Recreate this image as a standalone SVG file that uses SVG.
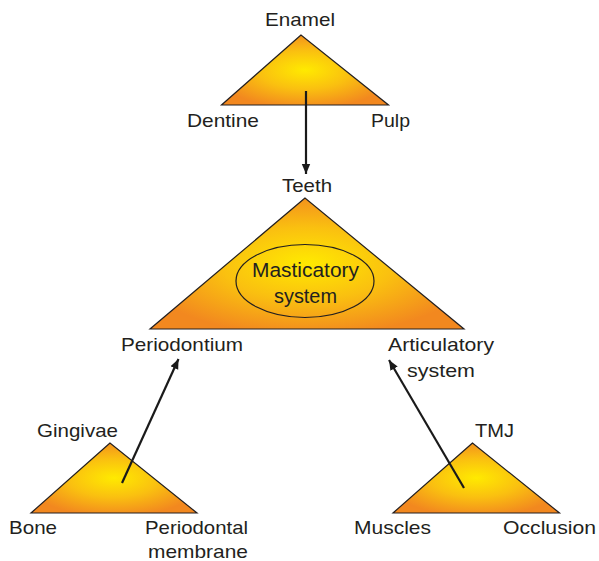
<svg xmlns="http://www.w3.org/2000/svg" width="599" height="561" viewBox="0 0 599 561">
<defs>
<radialGradient id="g" cx="0.5" cy="0.5" r="0.55">
<stop offset="0" stop-color="#FFEA00"/>
<stop offset="0.5" stop-color="#FAC010"/>
<stop offset="1" stop-color="#F2881F"/>
</radialGradient>
<marker id="ah" viewBox="0 0 10 10" refX="10" refY="5" markerWidth="10" markerHeight="10" markerUnits="userSpaceOnUse" orient="auto">
<path d="M0,0.8 L10,5 L0,9.2 Z" fill="#1a1a1a"/>
</marker>
<style>
.tri{fill:url(#g);stroke:#231f20;stroke-width:1.2;stroke-linejoin:miter}
.t{font-family:"Liberation Sans",Arial,sans-serif;font-size:19px;fill:#231f20}
.b{font-size:20.5px}
.c{stroke:#1a1a1a;stroke-width:2.2;fill:none;marker-end:url(#ah)}
.el{fill:none;stroke:#231f20;stroke-width:1.2}
</style>
</defs>
<g id="top">
<polygon class="tri" points="301,35 221.5,105 388.5,105"/>
<text class="t" x="265" y="26" textLength="70" lengthAdjust="spacingAndGlyphs">Enamel</text>
<text class="t" x="187" y="127" textLength="72" lengthAdjust="spacingAndGlyphs">Dentine</text>
<text class="t" x="371" y="127" textLength="39" lengthAdjust="spacingAndGlyphs">Pulp</text>
</g>
<g id="teeth">
<polygon class="tri" points="305,198 150,329 464,329"/>
<ellipse class="el" cx="305" cy="281" rx="69" ry="36.5"/>
<text class="t b" x="252" y="277" textLength="107" lengthAdjust="spacingAndGlyphs">Masticatory</text>
<text class="t b" x="274" y="303" textLength="63" lengthAdjust="spacingAndGlyphs">system</text>
<text class="t" x="282" y="192" textLength="50" lengthAdjust="spacingAndGlyphs">Teeth</text>
<text class="t" x="121" y="351" textLength="122" lengthAdjust="spacingAndGlyphs">Periodontium</text>
<text class="t" x="388" y="351" textLength="106" lengthAdjust="spacingAndGlyphs">Articulatory</text>
<text class="t" x="407" y="377" textLength="68" lengthAdjust="spacingAndGlyphs">system</text>
</g>
<g id="gingivae">
<polygon class="tri" points="110,443 31,513 197,513"/>
<text class="t" x="37" y="437" textLength="81" lengthAdjust="spacingAndGlyphs">Gingivae</text>
<text class="t" x="9" y="534" textLength="48" lengthAdjust="spacingAndGlyphs">Bone</text>
<text class="t" x="145" y="534" textLength="103" lengthAdjust="spacingAndGlyphs">Periodontal</text>
<text class="t" x="148" y="558" textLength="100" lengthAdjust="spacingAndGlyphs">membrane</text>
</g>
<g id="tmj">
<polygon class="tri" points="472.5,443 393,513 559.5,513"/>
<text class="t" x="475" y="437" textLength="39" lengthAdjust="spacingAndGlyphs">TMJ</text>
<text class="t" x="354" y="534" textLength="77" lengthAdjust="spacingAndGlyphs">Muscles</text>
<text class="t" x="503" y="534" textLength="93" lengthAdjust="spacingAndGlyphs">Occlusion</text>
</g>
<g id="connectors">
<line class="c" x1="306" y1="91" x2="306" y2="174"/>
<line class="c" x1="122" y1="483" x2="178.5" y2="359"/>
<line class="c" x1="464" y1="488" x2="389" y2="360"/>
</g>
</svg>
